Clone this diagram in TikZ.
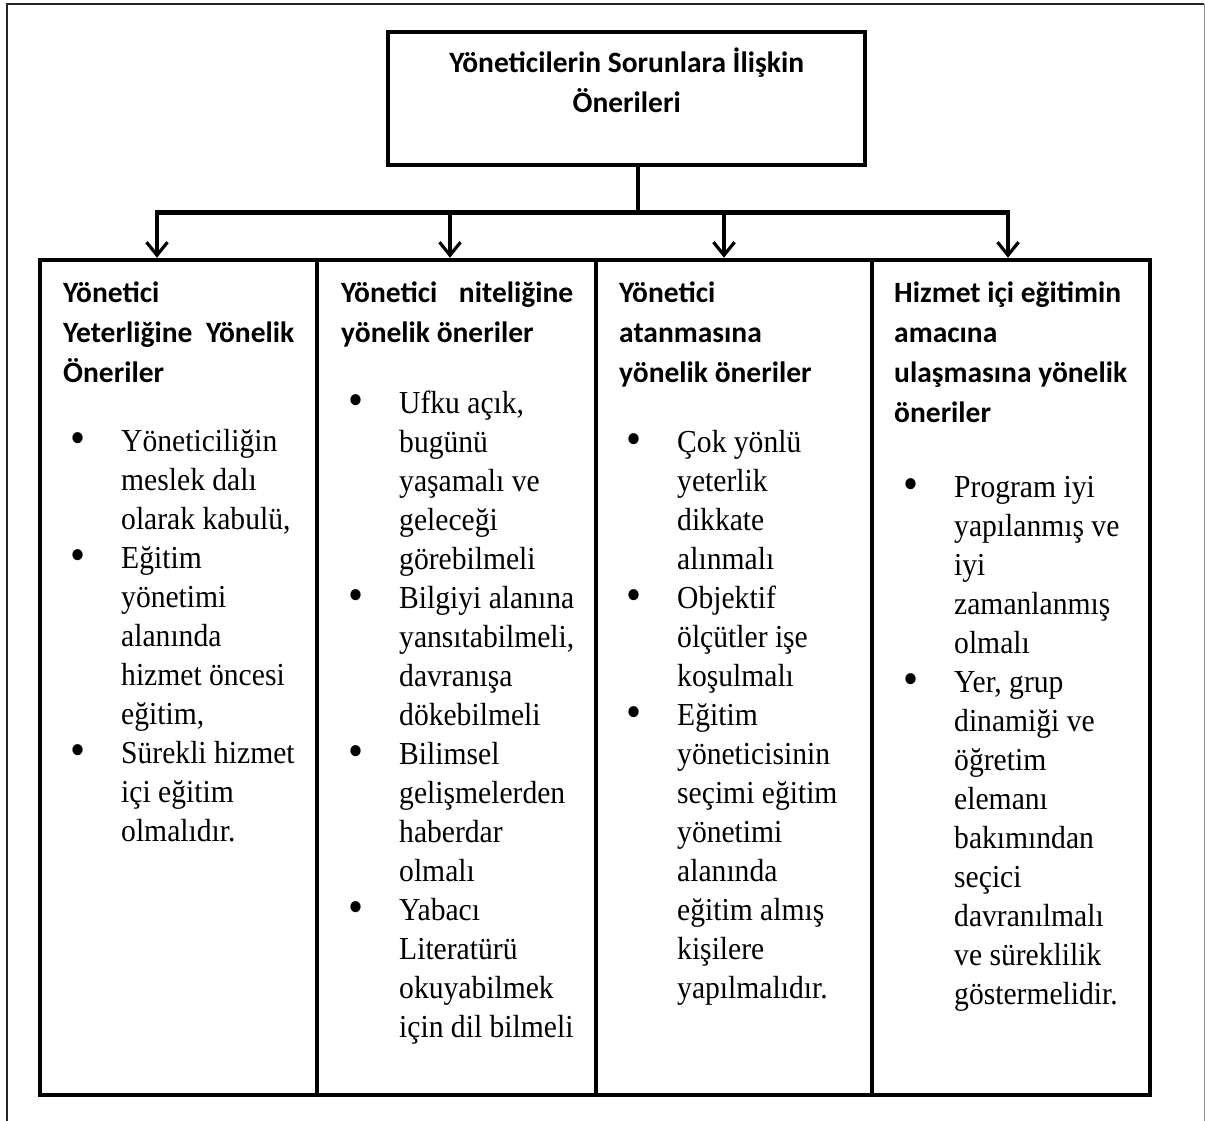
\documentclass[tikz,border=0pt]{standalone}
\usepackage{fontspec}
\usepackage{graphicx}
\setmainfont{Liberation Serif}[FakeStretch=0.925]
\newfontfamily\hdfont{Carlito}
\usetikzlibrary{arrows.meta,calc}

% one line of a list: with bullet, or continued
\newcommand{\bitem}[1]{\hbox{\makebox[51pt][l]{\raisebox{-2.5pt}{\scalebox{1.45}{\textbullet}}}#1}}
\newcommand{\bline}[1]{\hbox{\hspace*{51pt}#1}}
\newcommand{\hrow}[1]{\hbox{#1}}

\tikzset{
	thick box/.style={draw, line width=4.5pt, inner sep=0pt},
	column/.style={thick box, minimum height=835pt},
	head/.style={anchor=base west, inner sep=0pt, font=\hdfont\bfseries\fontsize{29.5}{40}\selectfont},
	body/.style={anchor=base west, inner sep=0pt, font=\fontsize{32}{39}\selectfont},
	down/.style={line width=3.2pt, -{Straight Barb[length=13pt,width=21pt,line width=3.2pt]}}
}

\begin{document}
\begin{tikzpicture}[x=1pt,y=-1pt]
	\useasboundingbox (0,0) rectangle (1205,1120);
	
	% page frame
	\draw[line width=1.5pt, black!85] (7,1125) -- (7,4) -- (1204,4);
	\draw[line width=1pt, black!45] (1204,4) -- (1204,1125);
	
	% top box
	\node[thick box, minimum width=477pt, minimum height=133pt] (root) at (626.5,98.5) {};
	\node[head] (rootlbl) at (388,72)
	{\vtop{\hbox to 477pt{\hfil Yöneticilerin Sorunlara İlişkin\hfil}
			\hbox to 477pt{\hfil Önerileri\hfil}}};
	
	% the four columns
	\node[column, minimum width=277pt] (c1) at (178.5,677.5) {};
	\node[column, minimum width=279pt] (c2) at (456.5,677.5) {};
	\node[column, minimum width=276pt] (c3) at (734,677.5) {};
	\node[column, minimum width=278pt] (c4) at (1011,677.5) {};
	
	% stem and bar
	\coordinate (s) at (638,212);
	\coordinate (b1) at (157,212);
	\coordinate (b2) at (450,212);
	\coordinate (b3) at (724,212);
	\coordinate (b4) at (1008,212);
	\draw[line width=4pt] (root.south -| s) -- (s);
	\draw[line width=5pt] ($(b1)+(-2,0)$) -- ($(b4)+(2,0)$);
	
	% arrows down to the columns
	\draw[down] (b1) -- (b1 |- c1.north);
	\draw[down] (b2) -- (b2 |- c2.north);
	\draw[down] (b3) -- (b3 |- c3.north);
	\draw[down] (b4) -- (b4 |- c4.north);
	
	% column 1
	\node[head] (h1) at (63,302) {\vtop{\hrow{Yönetici}
			\hbox to 231pt{Yeterliğine\hfill Yönelik}
			\hrow{Öneriler}}};
	\node[body] (l1) at (70,451) {\vtop{\bitem{Yöneticiliğin}
			\bline{meslek dalı}
			\bline{olarak kabulü,}
			\bitem{Eğitim}
			\bline{yönetimi}
			\bline{alanında}
			\bline{hizmet öncesi}
			\bline{eğitim,}
			\bitem{Sürekli hizmet}
			\bline{içi eğitim}
			\bline{olmalıdır.}}};
	
	% column 2
	\node[head] (h2) at (341,302) {\vtop{\hbox to 232pt{Yönetici\hfill niteliğine}
			\hrow{yönelik öneriler}}};
	\node[body] (l2) at (348,413) {\vtop{\bitem{Ufku açık,}
			\bline{bugünü}
			\bline{yaşamalı ve}
			\bline{geleceği}
			\bline{görebilmeli}
			\bitem{Bilgiyi alanına}
			\bline{yansıtabilmeli,}
			\bline{davranışa}
			\bline{dökebilmeli}
			\bitem{Bilimsel}
			\bline{gelişmelerden}
			\bline{haberdar}
			\bline{olmalı}
			\bitem{Yabacı}
			\bline{Literatürü}
			\bline{okuyabilmek}
			\bline{için dil bilmeli}}};
	
	% column 3
	\node[head] (h3) at (619,302) {\vtop{\hrow{Yönetici}
			\hrow{atanmasına}
			\hrow{yönelik öneriler}}};
	\node[body] (l3) at (626,452) {\vtop{\bitem{Çok yönlü}
			\bline{yeterlik}
			\bline{dikkate}
			\bline{alınmalı}
			\bitem{Objektif}
			\bline{ölçütler işe}
			\bline{koşulmalı}
			\bitem{Eğitim}
			\bline{yöneticisinin}
			\bline{seçimi eğitim}
			\bline{yönetimi}
			\bline{alanında}
			\bline{eğitim almış}
			\bline{kişilere}
			\bline{yapılmalıdır.}}};
	
	% column 4
	\node[head] (h4) at (894,302) {\vtop{\hrow{Hizmet içi eğitimin}
			\hrow{amacına}
			\hrow{ulaşmasına yönelik}
			\hrow{öneriler}}};
	\node[body] (l4) at (903,497) {\vtop{\bitem{Program iyi}
			\bline{yapılanmış ve}
			\bline{iyi}
			\bline{zamanlanmış}
			\bline{olmalı}
			\bitem{Yer, grup}
			\bline{dinamiği ve}
			\bline{öğretim}
			\bline{elemanı}
			\bline{bakımından}
			\bline{seçici}
			\bline{davranılmalı}
			\bline{ve süreklilik}
			\bline{göstermelidir.}}};
\end{tikzpicture}
\end{document}
